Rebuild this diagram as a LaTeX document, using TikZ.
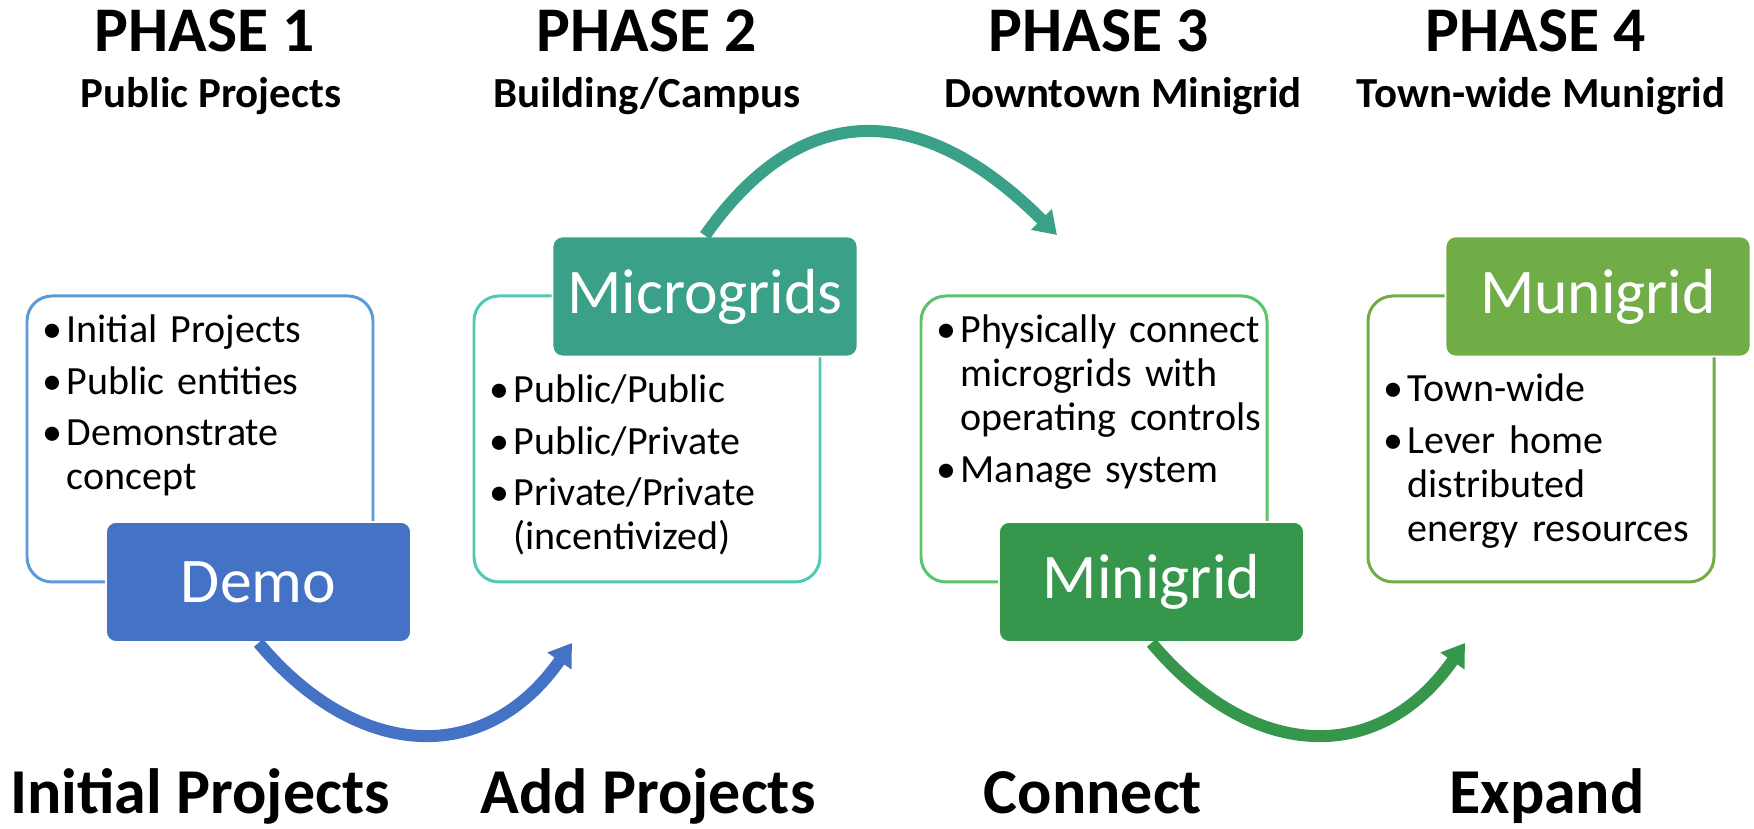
\documentclass[tikz,border=0pt]{standalone}
\usepackage{fontspec}
\setmainfont{Carlito}
\usetikzlibrary{arrows.meta}

\definecolor{demoblue}{HTML}{4472C4}
\definecolor{demoline}{HTML}{5B9BD5}
\definecolor{microteal}{HTML}{3AA087}
\definecolor{microline}{HTML}{4FCAB0}
\definecolor{minigreen}{HTML}{36964C}
\definecolor{miniline}{HTML}{5BC36A}
\definecolor{munigreen}{HTML}{70AD47}

% one bullet point with hanging indent
\newcommand{\itm}[1]{\hangindent=2.4mm\hangafter=1\noindent\makebox[2.4mm][l]{\textbullet}#1\par}

\begin{document}
\begin{tikzpicture}[
    % Styles
    phase/.style={font=\fontsize{18.1}{20}\selectfont\bfseries, anchor=base},
    sub/.style={font=\fontsize{12.2}{14}\selectfont\bfseries, anchor=base},
    foot/.style={font=\fontsize{18.2}{21}\selectfont\bfseries, anchor=base},
    panel/.style={draw, line width=0.85pt, rounded corners=0.25cm, minimum width=3.46cm, minimum height=2.86cm, fill=white},
    tag/.style={draw=white, line width=0.5pt, rounded corners=0.1cm, minimum width=3.05cm, minimum height=1.2cm, text=white, font=\fontsize{18.1}{20}\selectfont},
    items/.style={anchor=base west, text width=3.3cm, inner sep=0pt, font=\fontsize{11.38}{12.52}\selectfont, execute at begin node={\setlength{\parskip}{2pt}}},
    flow/.style={line width=1.2mm, -{Triangle[length=2.2mm, width=2.8mm]}}
]

    \useasboundingbox (0,0) rectangle (17.54,8.29);

    % --- PHASE 1 ---
    \node[phase] (p1) at (2.05, 7.77) {PHASE 1};
    \node[sub] (s1) at (2.11, 7.21) {Public Projects};
    \node[panel, draw=demoline] (b1) at (2.00, 3.90) {};
    \node[items] (l1) at (0.42, 4.86) {\itm{Initial Projects}\itm{Public entities}\itm{Demonstrate\newline concept}};
    \node[tag, fill=demoblue] (demo) at (2.585, 2.47) {Demo};
    \node[foot] (f1) at (2.00, 0.15) {Initial Projects};

    % --- PHASE 2 ---
    \node[phase] (p2) at (6.47, 7.77) {PHASE 2};
    \node[sub] (s2) at (6.47, 7.21) {Building/Campus};
    \node[panel, draw=microline] (b2) at (6.47, 3.90) {};
    \node[items] (l2) at (4.89, 4.26) {\itm{Public/Public}\itm{Public/Private}\itm{Private/Private\newline (incentivized)}};
    \node[tag, fill=microteal] (micro) at (7.05, 5.325) {Microgrids};
    \node[foot] (f2) at (6.48, 0.15) {Add Projects};

    % --- PHASE 3 ---
    \node[phase] (p3) at (10.99, 7.77) {PHASE 3};
    \node[sub] (s3) at (11.23, 7.21) {Downtown Minigrid};
    \node[panel, draw=miniline] (b3) at (10.94, 3.90) {};
    \node[items] (l3) at (9.36, 4.86) {\itm{Physically connect\newline microgrids with\newline operating controls}\itm{Manage system}};
    \node[tag, fill=minigreen] (mini) at (11.515, 2.47) {Minigrid};
    \node[foot] (f3) at (10.93, 0.15) {Connect};

    % --- PHASE 4 ---
    \node[phase] (p4) at (15.36, 7.77) {PHASE 4};
    \node[sub] (s4) at (15.41, 7.21) {Town-wide Munigrid};
    \node[panel, draw=munigreen] (b4) at (15.41, 3.90) {};
    \node[items] (l4) at (13.83, 4.27) {\itm{Town-wide}\itm{Lever home\newline distributed\newline energy resources}};
    \node[tag, fill=munigreen] (muni) at (15.98, 5.325) {Munigrid};
    \node[foot] (f4) at (15.47, 0.15) {Expand};

    % Arrows between phases
    \coordinate (t1) at (5.72, 1.86);
    \coordinate (t2) at (10.57, 5.94);
    \coordinate (t3) at (14.65, 1.86);
    \draw[flow, demoblue] (demo.south) to[out=-50, in=-125, looseness=1.25] (t1);
    \draw[flow, microteal] (micro.north) to[out=55, in=135, looseness=1.3] (t2);
    \draw[flow, minigreen] (mini.south) to[out=-50, in=-125, looseness=1.25] (t3);

\end{tikzpicture}
\end{document}
